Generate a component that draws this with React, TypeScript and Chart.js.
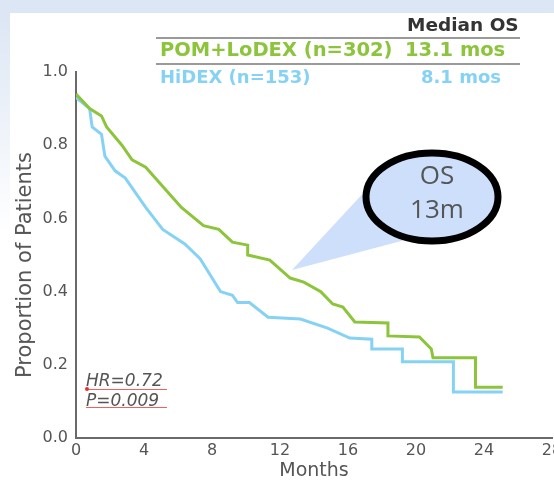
import React, { useEffect, useRef } from "react";
import { Chart, registerables } from "chart.js";

Chart.register(...registerables);

// ---- data ----
const greenMonths = [0, 0.8, 1.5, 1.8, 2.7, 3.3, 4.1, 6.2, 7.5, 8.4, 9.2, 10.1, 10.1, 11.4, 12.6, 13.4, 14.4, 15.1, 15.7, 16.4, 18.35, 18.35, 20.2, 20.9, 21.0, 23.5, 23.5, 25.1];
const greenProp = [0.94, 0.9, 0.88, 0.85, 0.8, 0.76, 0.74, 0.63, 0.58, 0.57, 0.535, 0.527, 0.5, 0.486, 0.437, 0.426, 0.4, 0.366, 0.358, 0.317, 0.314, 0.279, 0.276, 0.243, 0.219, 0.219, 0.139, 0.139];
const blueMonths = [0, 0.8, 0.95, 1.5, 1.7, 2.3, 2.9, 4.1, 5.1, 6.4, 7.3, 8.5, 9.2, 9.5, 10.2, 11.3, 13.2, 14.8, 16.1, 17.4, 17.4, 19.2, 19.2, 22.2, 22.2, 25.1];
const blueProp = [0.93, 0.9, 0.85, 0.83, 0.77, 0.73, 0.71, 0.63, 0.57, 0.53, 0.49, 0.4, 0.39, 0.37, 0.37, 0.33, 0.325, 0.3, 0.273, 0.27, 0.243, 0.243, 0.208, 0.208, 0.126, 0.126];
const xTickLabels = ["0", "4", "8", "12", "16", "20", "24", "28"];
const yTickLabels = ["0.0", "0.2", "0.4", "0.6", "0.8", "1.0"];
const seriesNames = ["POM+LoDEX (n=302)", "HiDEX (n=153)"];
const medianOS = ["13.1 mos", "8.1 mos"];

const GREEN = "#8cc43c";
const BLUE = "#86d2f4";
const GRAY = "#555555";
const FONT = "'DejaVu Sans', Verdana, sans-serif";

export default function App() {
  const ref = useRef<HTMLCanvasElement | null>(null);
  useEffect(() => {
    document.body.style.margin = "0";
    const canvas = ref.current!;
    const chart = new Chart(canvas, {
      type: "scatter",
      data: {
        datasets: [
          {
            label: seriesNames[0],
            data: greenMonths.map((x, i) => ({ x, y: greenProp[i] })),
            showLine: true,
            borderColor: GREEN,
            backgroundColor: GREEN,
            borderWidth: 3,
            pointRadius: 0,
            tension: 0,
          },
          {
            label: seriesNames[1],
            data: blueMonths.map((x, i) => ({ x, y: blueProp[i] })),
            showLine: true,
            borderColor: BLUE,
            backgroundColor: BLUE,
            borderWidth: 3,
            pointRadius: 0,
            tension: 0,
          },
        ],
      },
      options: {
        responsive: false,
        animation: false,
        layout: { padding: { top: 72, left: 0, right: 48, bottom: 0 } },
        plugins: { legend: { display: false }, tooltip: { enabled: false } },
        scales: {
          x: {
            type: "linear",
            min: 0,
            max: 28,
            grid: { display: false, drawTicks: false },
            border: { display: true, color: "#6a6a6a", width: 2 },
            ticks: {
              stepSize: 4,
              maxRotation: 0,
              padding: 3,
              color: GRAY,
              font: { family: FONT, size: 16 },
              callback: (_v: any, i: number) => xTickLabels[i],
            },
            title: {
              display: true,
              text: "Months",
              color: GRAY,
              font: { family: FONT, size: 19 },
              padding: { top: 0, bottom: 3 },
            },
            afterFit: (s: any) => {
              s.height = 47;
            },
          },
          y: {
            type: "linear",
            min: 0,
            max: 1,
            grid: { display: false, drawTicks: false },
            border: { display: true, color: "#6a6a6a", width: 2 },
            ticks: {
              stepSize: 0.2,
              padding: 8,
              color: GRAY,
              font: { family: FONT, size: 16 },
              callback: (_v: any, i: number) => yTickLabels[i],
            },
            afterFit: (s: any) => {
              s.width = 76;
            },
          },
        },
      },
    } as any);
    return () => chart.destroy();
  }, []);

  const abs = (o: React.CSSProperties): React.CSSProperties => ({ position: "absolute", ...o });
  const txt = (o: React.CSSProperties): React.CSSProperties => abs({ fontFamily: FONT, whiteSpace: "nowrap", lineHeight: "22px", ...o });

  return (
    <div style={{ position: "relative", width: 554, height: 485, overflow: "hidden", background: "#fff" }}>
      <div style={abs({ left: 0, top: 0, width: 554, height: 13, background: "#dce6f4" })} />
      <div style={abs({ left: 0, top: 13, width: 10, height: 220, background: "linear-gradient(#dce6f4, #ffffff)" })} />
      <canvas ref={ref} width={600} height={485} style={abs({ left: 0, top: 0, width: 600, height: 485 })} />

      {/* y axis title */}
      <div style={txt({ left: 24, top: 265, fontSize: 21, color: GRAY, lineHeight: "24px", transform: "translate(-50%, -50%) rotate(-90deg)" })}>
        Proportion of Patients
      </div>

      {/* legend table */}
      <div style={abs({ left: 156, top: 37, width: 364, height: 0, borderTop: "2px solid #9a9a9a" })} />
      <div style={abs({ left: 156, top: 63, width: 364, height: 0, borderTop: "2px solid #9a9a9a" })} />
      <div style={txt({ left: 407, top: 14, fontWeight: "bold", fontSize: 18.5, color: "#333" })}>Median OS</div>
      <div style={txt({ left: 160, top: 39, fontWeight: "bold", fontSize: 19.5, color: GREEN })}>{seriesNames[0]}</div>
      <div style={txt({ left: 405, top: 39, fontWeight: "bold", fontSize: 19.5, color: GREEN })}>{medianOS[0]}</div>
      <div style={txt({ left: 160, top: 66, fontWeight: "bold", fontSize: 18, color: BLUE })}>{seriesNames[1]}</div>
      <div style={txt({ left: 421, top: 66, fontWeight: "bold", fontSize: 18, color: BLUE })}>{medianOS[1]}</div>

      {/* HR / P annotation */}
      <div style={txt({ left: 86, top: 369, fontStyle: "italic", fontSize: 17, color: GRAY })}>HR=0.72</div>
      <div style={abs({ left: 86, top: 389, width: 81, height: 0, borderTop: "1px solid #f06060" })} />
      <div style={abs({ left: 85, top: 387, width: 4, height: 4, borderRadius: 2, background: "#e83030" })} />
      <div style={txt({ left: 86, top: 389, fontStyle: "italic", fontSize: 17, color: GRAY })}>P=0.009</div>
      <div style={abs({ left: 86, top: 407, width: 81, height: 0, borderTop: "1px solid #f06060" })} />

      {/* callout */}
      <svg width={554} height={485} style={abs({ left: 0, top: 0 })}>
        <polygon points="292,270 368,188 420,236" fill="#cddffb" />
        <ellipse cx={432} cy={197} rx={66} ry={44} fill="#cddffb" stroke="#000" strokeWidth={7} />
      </svg>
      <div style={abs({ left: 382, top: 157, width: 110, textAlign: "center", fontFamily: "'Open Sans', sans-serif", fontSize: 26, lineHeight: "34px", color: GRAY })}>
        OS
        <br />
        13m
      </div>
    </div>
  );
}
